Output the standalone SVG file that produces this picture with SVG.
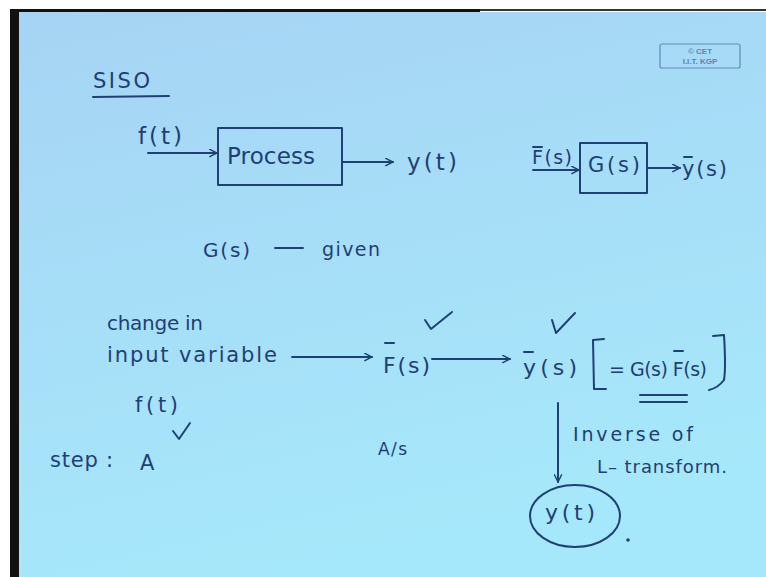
<svg xmlns="http://www.w3.org/2000/svg" width="766" height="577" viewBox="0 0 766 577">
<defs>
<linearGradient id="bg" x1="0" y1="0" x2="0.3" y2="1">
<stop offset="0" stop-color="#a6d4f4"/>
<stop offset="1" stop-color="#a6e8fb"/>
</linearGradient>
<marker id="ah" viewBox="0 0 10 10" refX="9" refY="5" markerWidth="9" markerHeight="9" markerUnits="userSpaceOnUse" orient="auto">
<path d="M1,1 L9,5 L1,9" fill="none" stroke="#1f4074" stroke-width="1.6" stroke-linecap="round"/>
</marker>
<style>
.t{font-family:"DejaVu Sans","Liberation Sans",sans-serif;fill:#1f4074;}
.ink{fill:none;stroke:#1f4074;stroke-width:2;stroke-linecap:round;stroke-linejoin:round;}
.logo{font-family:"Liberation Sans",sans-serif;font-weight:bold;fill:#5f82b4;font-size:8px;text-anchor:middle;}
</style>
</defs>
<rect width="766" height="577" fill="#ffffff"/>
<rect x="19" y="12" width="747" height="565" fill="url(#bg)"/>
<rect x="10" y="9" width="9" height="568" fill="#111"/>
<rect x="10" y="9" width="470" height="3" fill="#111"/>
<rect x="480" y="9" width="286" height="2" fill="#333"/>

<g id="logo">
<rect x="660" y="44" width="80" height="24" rx="2" fill="none" stroke="#6688b8" stroke-width="1.2"/>
<text class="logo" x="700" y="54">© CET</text>
<text class="logo" x="700" y="64">I.I.T. KGP</text>
</g>

<g id="title">
<text class="t" x="93" y="88" font-size="21" textLength="57">SISO</text>
<path class="ink" d="M93,97 L169,96"/>
</g>

<g id="connectors">
<path class="ink" d="M148,153 L217,153" marker-end="url(#ah)"/>
<path class="ink" d="M343,162 L393,162" marker-end="url(#ah)"/>
<path class="ink" d="M533,170 L579,170" marker-end="url(#ah)"/>
<path class="ink" d="M648,168 L680,168" marker-end="url(#ah)"/>
<path class="ink" d="M292,357 L372,357" marker-end="url(#ah)"/>
<path class="ink" d="M432,359 L510,359" marker-end="url(#ah)"/>
<path class="ink" d="M558,403 L558,482" marker-end="url(#ah)"/>
</g>

<g id="f_t_in">
<text class="t" x="138" y="144" font-size="23" textLength="44">f(t)</text>
</g>
<g id="process">
<rect class="ink" x="218" y="128" width="124" height="57"/>
<text class="t" x="227" y="164" font-size="23" textLength="88">Process</text>
</g>
<g id="y_t_out">
<text class="t" x="407" y="170" font-size="23" textLength="50">y(t)</text>
</g>

<g id="F_s_in">
<text class="t" x="532" y="164" font-size="19" textLength="40">F(s)</text>
<path class="ink" d="M533,147 L542,147" stroke-width="1.6"/>
</g>
<g id="G_box">
<rect class="ink" x="580" y="143" width="67" height="50"/>
<text class="t" x="588" y="172" font-size="21" textLength="52">G(s)</text>
</g>
<g id="y_s_out">
<text class="t" x="682" y="176" font-size="21" textLength="45">y(s)</text>
<path class="ink" d="M684,157 L692,157" stroke-width="1.6"/>
</g>

<g id="given">
<text class="t" x="203" y="257" font-size="20" textLength="47">G(s)</text>
<path class="ink" d="M275,248 L303,248"/>
<text class="t" x="322" y="256" font-size="19" textLength="58">given</text>
</g>

<g id="input_change">
<text class="t" x="107" y="330" font-size="20" textLength="96">change in</text>
<text class="t" x="107" y="362" font-size="21" textLength="170">input variable</text>
<text class="t" x="135" y="412" font-size="21" textLength="43">f(t)</text>
</g>

<g id="step">
<text class="t" x="50" y="467" font-size="21" textLength="63">step :</text>
<text class="t" x="140" y="470" font-size="21">A</text>
<path class="ink" d="M173,431 L179,439 L190,423"/>
</g>

<g id="A_over_s">
<text class="t" x="378" y="455" font-size="17" textLength="29">A/s</text>
</g>

<g id="F_s_mid">
<text class="t" x="383" y="373" font-size="22" textLength="47">F(s)</text>
<path class="ink" d="M385,343 L394,343" stroke-width="1.6"/>
<path class="ink" d="M425,320 L431,329 L452,312"/>
</g>

<g id="y_s_mid">
<text class="t" x="523" y="375" font-size="22" textLength="54">y(s)</text>
<path class="ink" d="M524,352 L533,352" stroke-width="1.6"/>
<path class="ink" d="M552,320 L556,333 L575,313"/>
</g>

<g id="equation">
<path class="ink" d="M604,339 L593,340 L594,389 L606,389"/>
<text class="t" x="609" y="376" font-size="19" textLength="98">= G(s) F(s)</text>
<path class="ink" d="M674,351 L683,351" stroke-width="1.6"/>
<path class="ink" d="M713,336 L724,335 Q726,368 724,380 Q718,388 709,390"/>
<path class="ink" d="M640,395 L687,395"/>
<path class="ink" d="M640,402 L687,402"/>
</g>

<g id="inverse_label">
<text class="t" x="573" y="441" font-size="19" textLength="120">Inverse of</text>
<text class="t" x="597" y="473" font-size="18" textLength="130">L– transform.</text>
</g>

<g id="y_t_result">
<ellipse class="ink" cx="575" cy="516" rx="45" ry="31"/>
<text class="t" x="545" y="520" font-size="22" textLength="50">y(t)</text>
<circle cx="628" cy="540" r="1.8" fill="#1f4074"/>
</g>
</svg>
